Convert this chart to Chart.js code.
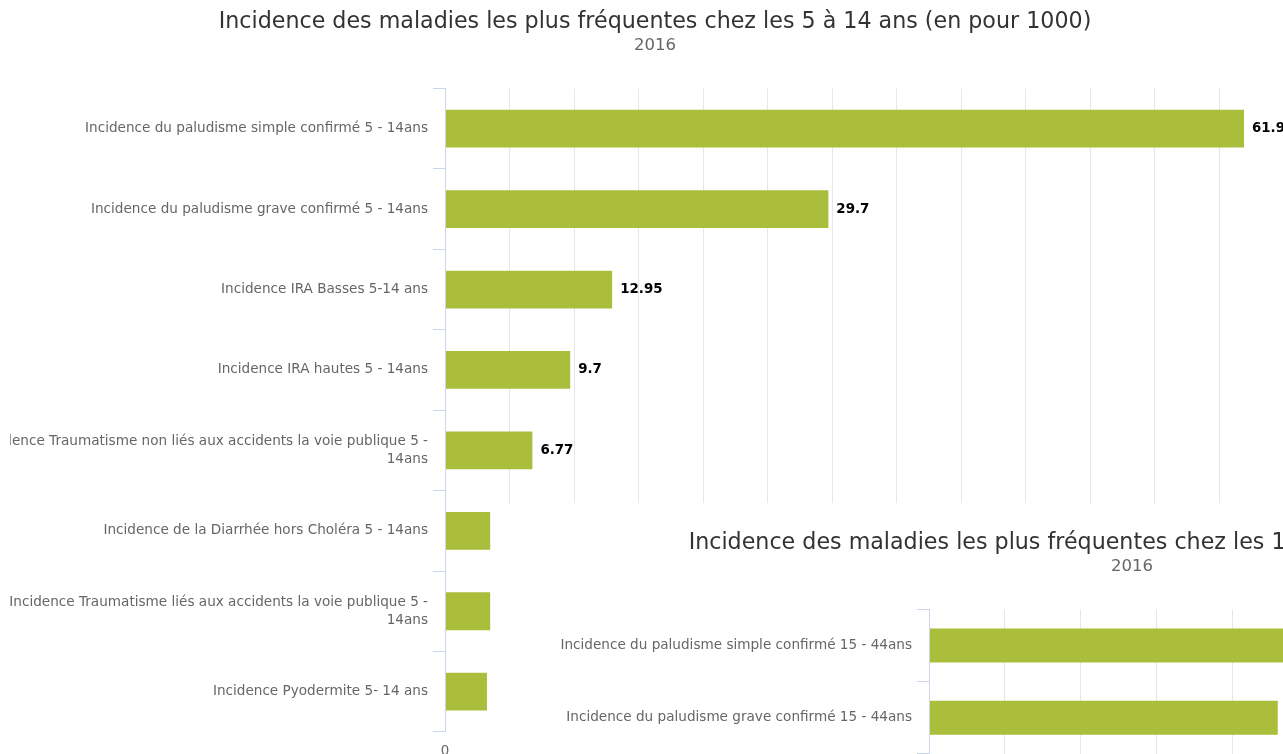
<!DOCTYPE html>
<html>
<head>
<meta charset="utf-8">
<script src="https://cdn.jsdelivr.net/npm/chart.js@4"></script>
<style>
  html, body { margin: 0; padding: 0; background: #fff; overflow: hidden; width: 1283px; height: 754px; }
  #main { position: absolute; left: 10px; top: 0; width: 1290px; height: 772px; }
  #panel { position: absolute; left: 495px; top: 503px; width: 788px; height: 251px; background: #fff; overflow: hidden; }
  #chart2 { position: absolute; left: 0; top: 18px; }
</style>
</head>
<body>
<div id="main"><canvas id="chart1" width="1290" height="772"></canvas></div>
<div id="panel"><canvas id="chart2" width="1274" height="273"></canvas></div>
<script>
// 5 - 14 ans
const labels5to14 = [
  "Incidence du paludisme simple confirmé 5 - 14ans",
  "Incidence du paludisme grave confirmé 5 - 14ans",
  "Incidence IRA Basses 5-14 ans",
  "Incidence IRA hautes 5 - 14ans",
  ["Incidence Traumatisme non liés aux accidents la voie publique 5 -", "14ans"],
  "Incidence de la Diarrhée hors Choléra 5 - 14ans",
  ["Incidence Traumatisme liés aux accidents la voie publique 5 -", "14ans"],
  "Incidence Pyodermite 5- 14 ans"
];
const values5to14 = [61.9, 29.7, 12.95, 9.7, 6.77, 3.5, 3.5, 3.25];

// 15 - 44 ans (only the top of this chart is visible)
const labels15to44 = [
  "Incidence du paludisme simple confirmé 15 - 44ans",
  "Incidence du paludisme grave confirmé 15 - 44ans"
];
const values15to44 = [52.8, 23.0];

const year = "2016";
const barColor = "#aabe3c";
const fontFamily = '"DejaVu Sans", sans-serif';

Chart.defaults.font.family = fontFamily;
Chart.defaults.animation = false;

// value labels drawn to the right of each bar
const valueLabels = {
  id: "valueLabels",
  afterDatasetsDraw(chart) {
    const ctx = chart.ctx;
    const meta = chart.getDatasetMeta(0);
    const data = chart.data.datasets[0].data;
    ctx.save();
    ctx.font = "bold 13.4px " + fontFamily;
    ctx.fillStyle = "#000000";
    ctx.textAlign = "left";
    ctx.textBaseline = "middle";
    meta.data.forEach((bar, i) => {
      ctx.fillText(String(data[i]), bar.x + 8, bar.y);
    });
    ctx.restore();
  }
};

function makeChart(canvasId, title, labels, values, maxValue, rightGap, axisWidth) {
  const ctx = document.getElementById(canvasId).getContext("2d");
  return new Chart(ctx, {
    type: "bar",
    data: {
      labels: labels,
      datasets: [{
        data: values,
        backgroundColor: barColor,
        borderWidth: 0,
        categoryPercentage: 1,
        barPercentage: 0.47
      }]
    },
    options: {
      indexAxis: "y",
      responsive: false,
      layout: { padding: 0 },
      plugins: {
        legend: { display: false },
        tooltip: { enabled: false },
        title: {
          display: true,
          text: title,
          color: "#333333",
          font: { size: 22.2, weight: "normal" },
          padding: { top: 9, bottom: 0 }
        },
        subtitle: {
          display: true,
          text: year,
          color: "#666666",
          font: { size: 16.5 },
          padding: { top: 0, bottom: 33 }
        }
      },
      scales: {
        y: {
          ticks: {
            color: "#666666",
            font: { size: 13.6, lineHeight: 1.28 },
            padding: 5,
            autoSkip: false
          },
          grid: {
            drawOnChartArea: false,
            drawTicks: true,
            tickLength: 12,
            tickColor: "#ccd6eb"
          },
          border: { display: true, color: "#ccd6eb", width: 1, z: 1 },
          afterFit(scale) { scale.width = axisWidth; }
        },
        x: {
          min: 0,
          max: maxValue,
          ticks: {
            stepSize: 5,
            color: "#666666",
            font: { size: 13.4 },
            padding: 12
          },
          grid: { color: "#e6e6e6", lineWidth: 1, drawTicks: false },
          border: { display: false },
          afterFit(scale) { scale.paddingLeft = 0; scale.paddingRight = rightGap; }
        }
      }
    },
    plugins: [valueLabels]
  });
}

makeChart("chart1",
  "Incidence des maladies les plus fréquentes chez les 5 à 14 ans (en pour 1000)",
  labels5to14, values5to14, 65, 16, 435);

makeChart("chart2",
  "Incidence des maladies les plus fréquentes chez les 15 à 44 ans (en pour 1000)",
  labels15to44, values15to44, 55, 6, 434);
</script>
</body>
</html>
